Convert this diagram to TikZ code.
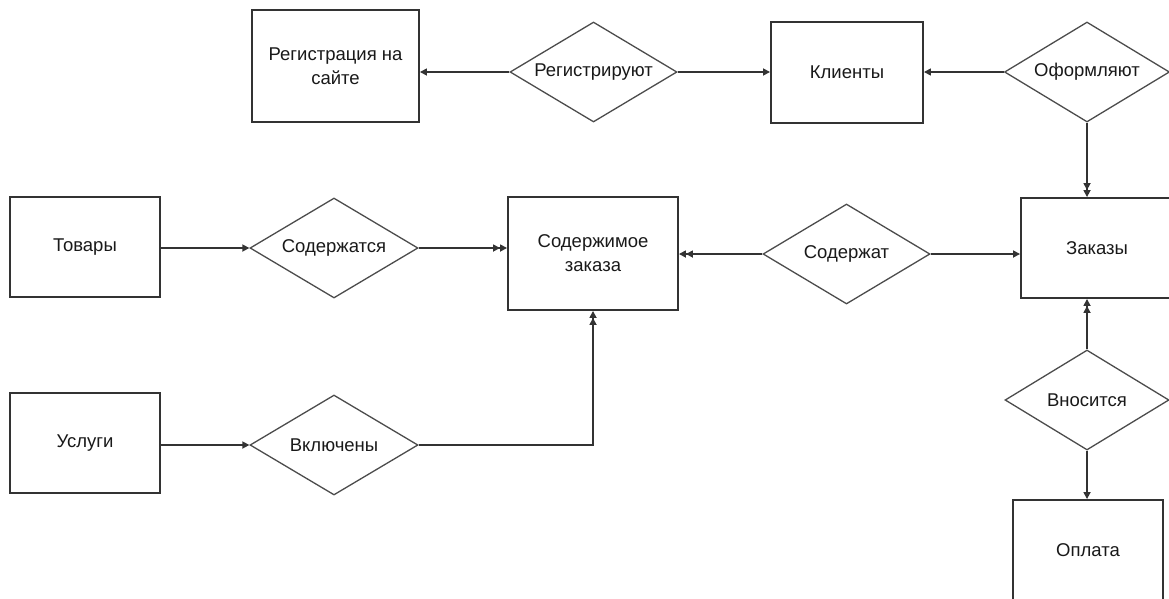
\documentclass[tikz,border=0pt]{standalone}
\usepackage{fontspec}
\setmainfont{Liberation Sans}
\usetikzlibrary{shapes.geometric,arrows.meta}
\begin{document}
\begin{tikzpicture}[x=1pt,y=-1pt,
  lbl/.style={font=\fontsize{18.5}{24}\selectfont, text=black!90},
  ent/.style={lbl, rectangle, draw=black!80, line width=1.9pt, inner sep=0pt, align=center},
  rel/.style={lbl, diamond, draw=black!70, line width=1.3pt, inner sep=0pt, aspect=1.67},
  con/.style={draw=black!80, line width=1.6pt},
  one/.style={con, -{Triangle[length=7pt,width=7pt]}},
  many/.style={con, -{Triangle[length=7pt,width=7pt]Triangle[length=7pt,width=7pt]}}]
\useasboundingbox (0,0) rectangle (1169,598);
\fill[white] (0,0) rectangle (1169,598);
\clip (0,0) rectangle (1169,598);

% entities
\node[ent, minimum width=167pt, minimum height=112pt] (reg)  at (335.5,66)  {Регистрация на\\сайте};
\node[ent, minimum width=152pt, minimum height=101pt] (kl)   at (847,72.5)  {Клиенты};
\node[ent, minimum width=152pt, minimum height=100pt] (zak)  at (1097,248)  {Заказы};
\node[ent, minimum width=170pt, minimum height=113pt] (sodz) at (593,253.5) {Содержимое\\заказа};
\node[ent, minimum width=150pt, minimum height=100pt] (tov)  at (85,247)    {Товары};
\node[ent, minimum width=150pt, minimum height=100pt] (usl)  at (85,443)    {Услуги};
\node[ent, minimum width=150pt, minimum height=100pt] (opl)  at (1088,550)  {Оплата};

% relationships
\node[rel, minimum width=167pt, minimum height=100pt] (regs)   at (593.5,72)   {Регистрируют};
\node[rel, minimum width=165pt, minimum height=100pt] (oform)  at (1087,72)    {Оформляют};
\node[rel, minimum width=167pt, minimum height=100pt] (sodt)   at (846.5,254)  {Содержат};
\node[rel, minimum width=168pt, minimum height=100pt] (sodsja) at (334,248)    {Содержатся};
\node[rel, minimum width=168pt, minimum height=100pt] (vkl)    at (334,445)    {Включены};
\node[rel, minimum width=164pt, minimum height=100pt] (vnos)   at (1087,400)   {Вносится};

% connectors
\draw[one]  (regs.west) -- (regs.west -| reg.east);
\draw[one]  (regs.east) -- (regs.east -| kl.west);
\draw[one]  (oform.west) -- (oform.west -| kl.east);
\draw[many] (oform.south) -- (oform.south |- zak.north);
\draw[one]  (tov.east |- sodsja.west) -- (sodsja.west);
\draw[many] (sodsja.east) -- (sodsja.east -| sodz.west);
\draw[many] (sodt.west) -- (sodt.west -| sodz.east);
\draw[one]  (sodt.east) -- (sodt.east -| zak.west);
\draw[one]  (usl.east |- vkl.west) -- (vkl.west);
\draw[many] (vkl.east) -| (sodz.south);
\draw[many] (vnos.north) -- (vnos.north |- zak.south);
\draw[one]  (vnos.south) -- (vnos.south |- opl.north);
\end{tikzpicture}
\end{document}
